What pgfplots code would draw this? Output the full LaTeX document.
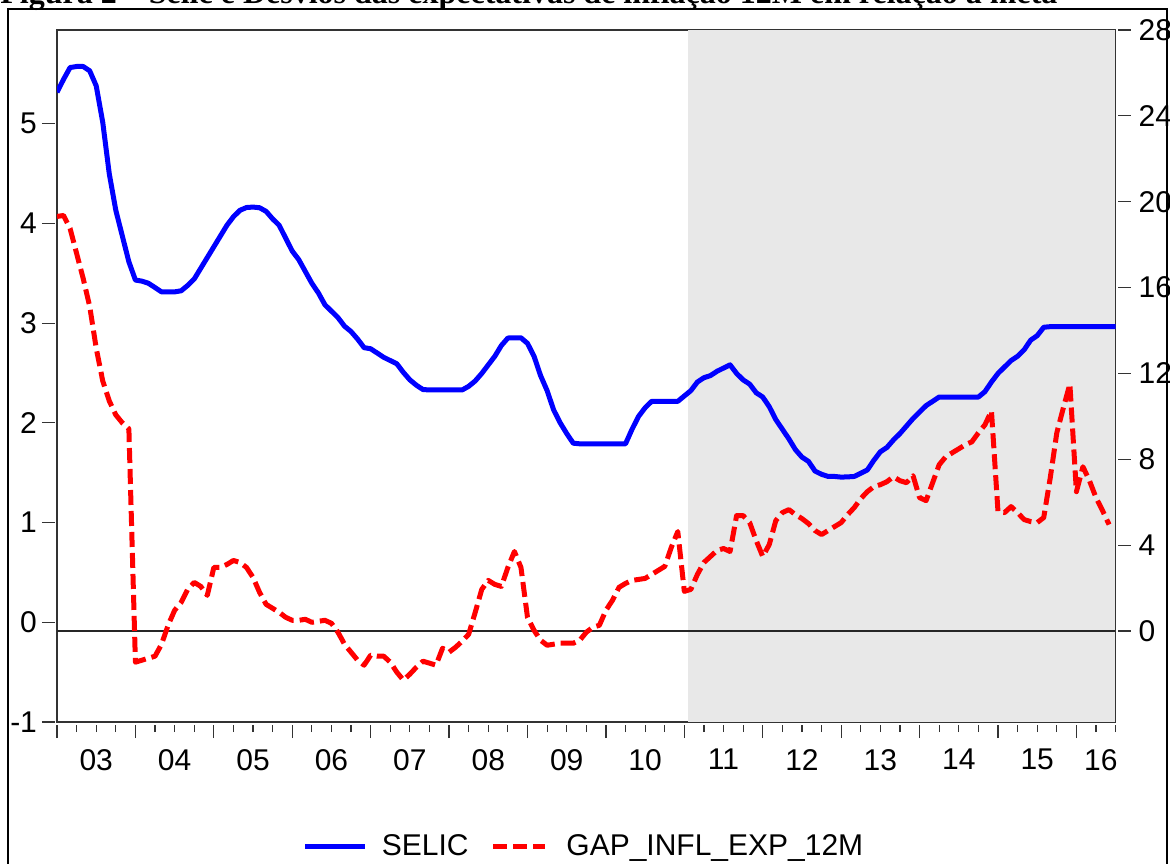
\documentclass[border=0pt]{standalone}
\usepackage{fontspec}
\setmainfont{Liberation Sans}
\newfontfamily\titlefont{Liberation Serif}
\usepackage{pgfplots}
\pgfplotsset{compat=1.18}

\newcommand\tf{\fontsize{15}{17}\selectfont}

\begin{document}
\begin{tikzpicture}
\useasboundingbox (0pt,0pt) rectangle (585pt,431.5pt);
\clip (0pt,0pt) rectangle (585pt,431.5pt);

% title, cut off at the top like the scan
\node[anchor=base west, inner sep=0pt] at (0pt,429.5pt)
  {\titlefont\bfseries\fontsize{16}{18}\selectfont Figura 2 – Selic e Desvios das expectativas de inflação 12M em relação à meta};
% outer frame
\draw[line width=1pt] (4.2pt,-20pt) rectangle (583.6pt,426.8pt);

% left axis: GAP_INFL_EXP_12M
\begin{axis}[
  at={(28.5pt,70.5pt)}, anchor=south west,
  width=529.3pt, height=346pt, scale only axis,
  xmin=0, xmax=162, ymin=-1, ymax=5.94,
  axis line style={draw=black!80, line width=0.75pt},
  tick align=outside,
  major tick length=6.5pt, minor tick length=3.5pt,
  tick style={black!80, line width=0.6pt},
  xtick style={yshift=-1.5pt},
  ytick style={xshift=-1pt},
  xtick={0,12,...,156}, xticklabels={},
  minor xtick={3,6,...,162},
  xtick pos=left,
  extra x ticks={6,18,30,42,54,66,78,90,102,114,126,138,150,159.75},
  extra x tick labels={03,04,05,06,07,08,09,10,11,12,13,14,15,16},
  extra x tick style={major tick length=0pt, xticklabel style={yshift=-10pt}},
  ytick={-1,0,1,2,3,4,5}, yticklabels={-1,0,1,2,3,4,5},
  ytick pos=left,
  ticklabel style={font=\tf},
]
\fill[black!9] (axis cs:96.6,-1) rectangle (axis cs:162,5.94);
\draw[black!85, line width=0.7pt] (rel axis cs:0,0.1315) -- (rel axis cs:1,0.1315);
\addplot[red, line width=2.5pt, dash pattern=on 7.5pt off 3pt, line join=round] coordinates {
(0,4.07)(1,4.08)(2,3.95)(3,3.7)(4,3.45)(5,3.17)(6,2.75)(7,2.42)(8,2.22)(9,2.08)(10,2.0)(11,1.94)
(12,-0.40)(13,-0.38)(14,-0.36)(15,-0.34)(16,-0.22)(17,-0.03)(18,0.12)(19,0.2)(20,0.33)(21,0.40)(22,0.36)(23,0.27)
(24,0.55)(25,0.55)(26,0.58)(27,0.62)(28,0.6)(29,0.55)(30,0.45)(31,0.30)(32,0.18)(33,0.14)(34,0.10)(35,0.05)
(36,0.02)(37,0.02)(38,0.03)(39,0.0)(40,0.01)(41,0.02)(42,-0.01)(43,-0.10)(44,-0.22)(45,-0.30)(46,-0.38)(47,-0.43)
(48,-0.33)(49,-0.34)(50,-0.34)(51,-0.40)(52,-0.50)(53,-0.58)(54,-0.52)(55,-0.45)(56,-0.39)(57,-0.41)(58,-0.43)(59,-0.26)
(60,-0.30)(61,-0.25)(62,-0.19)(63,-0.12)(64,0.10)(65,0.33)(66,0.42)(67,0.38)(68,0.36)(69,0.55)(70,0.71)(71,0.55)
(72,0.05)(73,-0.08)(74,-0.18)(75,-0.23)(76,-0.22)(77,-0.21)(78,-0.21)(79,-0.21)(80,-0.18)(81,-0.10)(82,-0.05)(83,-0.03)
(84,0.12)(85,0.22)(86,0.35)(87,0.39)(88,0.42)(89,0.43)(90,0.44)(91,0.48)(92,0.52)(93,0.56)(94,0.75)(95,0.91)
(96,0.31)(97,0.33)(98,0.48)(99,0.60)(100,0.66)(101,0.72)(102,0.74)(103,0.71)(104,1.07)(105,1.07)(106,1.0)(107,0.82)
(108,0.66)(109,0.78)(110,1.02)(111,1.10)(112,1.13)(113,1.08)(114,1.04)(115,0.99)(116,0.92)(117,0.88)(118,0.92)(119,0.96)
(120,1.0)(121,1.08)(122,1.15)(123,1.24)(124,1.31)(125,1.36)(126,1.38)(127,1.41)(128,1.46)(129,1.42)(130,1.40)(131,1.47)
(132,1.25)(133,1.22)(134,1.40)(135,1.58)(136,1.66)(137,1.70)(138,1.74)(139,1.78)(140,1.81)(141,1.90)(142,1.98)(143,2.12)
(144,1.11)(145,1.10)(146,1.16)(147,1.10)(148,1.03)(149,1.01)(150,1.00)(151,1.05)(152,1.45)(153,1.90)(154,2.15)(155,2.39)
(156,1.31)(157,1.56)(158,1.42)(159,1.25)(160,1.12)(161,0.98)
};
\end{axis}

% right axis: SELIC
\begin{axis}[
  at={(28.5pt,70.5pt)}, anchor=south west,
  width=529.3pt, height=346pt, scale only axis,
  xmin=0, xmax=162, ymin=-4.24, ymax=28,
  axis x line=none, axis y line*=right,
  axis line style={draw=black!80, line width=0.75pt},
  tick align=outside, major tick length=6.5pt,
  tick style={black!80, line width=0.6pt},
  ytick style={xshift=1pt},
  ytick={0,4,...,28}, yticklabels={0,4,8,12,16,20,24,28},
  ticklabel style={font=\tf},
  yticklabel style={xshift=1.5pt},
  legend style={draw=none, fill=none, font=\tf,
    at={(axis description cs:0.4988,-0.1806)}, anchor=center,
    /tikz/every even column/.append style={column sep=9pt}},
  legend columns=2,
]
\addplot[blue, line width=2.5pt, line join=round,
  legend image code/.code={\draw[blue, line width=2.5pt] (0pt,0pt) -- (30pt,0pt); \path (35pt,0pt);}] coordinates {
(0,25.1)(1,25.7)(2,26.25)(3,26.3)(4,26.3)(5,26.1)(6,25.4)(7,23.7)(8,21.3)(9,19.6)(10,18.4)(11,17.2)
(12,16.35)(13,16.3)(14,16.2)(15,16.0)(16,15.8)(17,15.8)(18,15.8)(19,15.85)(20,16.1)(21,16.4)(22,16.9)(23,17.4)
(24,17.9)(25,18.4)(26,18.9)(27,19.3)(28,19.6)(29,19.73)(30,19.75)(31,19.72)(32,19.55)(33,19.2)(34,18.9)(35,18.3)
(36,17.7)(37,17.3)(38,16.75)(39,16.2)(40,15.75)(41,15.2)(42,14.9)(43,14.6)(44,14.2)(45,13.95)(46,13.6)(47,13.2)
(48,13.15)(49,12.95)(50,12.75)(51,12.6)(52,12.45)(53,12.05)(54,11.7)(55,11.45)(56,11.25)(57,11.23)(58,11.23)(59,11.23)
(60,11.23)(61,11.23)(62,11.23)(63,11.4)(64,11.65)(65,12.0)(66,12.4)(67,12.8)(68,13.3)(69,13.65)(70,13.66)(71,13.66)
(72,13.4)(73,12.8)(74,11.9)(75,11.2)(76,10.3)(77,9.7)(78,9.2)(79,8.75)(80,8.72)(81,8.72)(82,8.72)(83,8.72)
(84,8.72)(85,8.72)(86,8.72)(87,8.72)(88,9.4)(89,10.0)(90,10.4)(91,10.7)(92,10.7)(93,10.7)(94,10.7)(95,10.7)
(96,10.95)(97,11.2)(98,11.6)(99,11.8)(100,11.9)(101,12.1)(102,12.25)(103,12.4)(104,12.0)(105,11.7)(106,11.5)(107,11.1)
(108,10.9)(109,10.45)(110,9.85)(111,9.4)(112,8.95)(113,8.45)(114,8.1)(115,7.9)(116,7.45)(117,7.3)(118,7.2)(119,7.2)
(120,7.17)(121,7.18)(122,7.2)(123,7.35)(124,7.5)(125,7.95)(126,8.35)(127,8.55)(128,8.9)(129,9.2)(130,9.55)(131,9.9)
(132,10.2)(133,10.5)(134,10.7)(135,10.9)(136,10.9)(137,10.9)(138,10.9)(139,10.9)(140,10.9)(141,10.9)(142,11.15)(143,11.6)
(144,12.0)(145,12.3)(146,12.6)(147,12.8)(148,13.1)(149,13.55)(150,13.76)(151,14.15)(152,14.18)(153,14.18)(154,14.18)(155,14.18)
(156,14.18)(157,14.18)(158,14.18)(159,14.18)(160,14.18)(161,14.18)(162,14.18)
};
\addlegendentry{SELIC}
\addlegendimage{legend image code/.code={\draw[red, line width=2.5pt, dash pattern=on 7pt off 3pt] (0pt,0pt) -- (26pt,0pt); \path (34.5pt,0pt);}}
\addlegendentry{GAP\_INFL\_EXP\_12M}
\end{axis}
\end{tikzpicture}
\end{document}
